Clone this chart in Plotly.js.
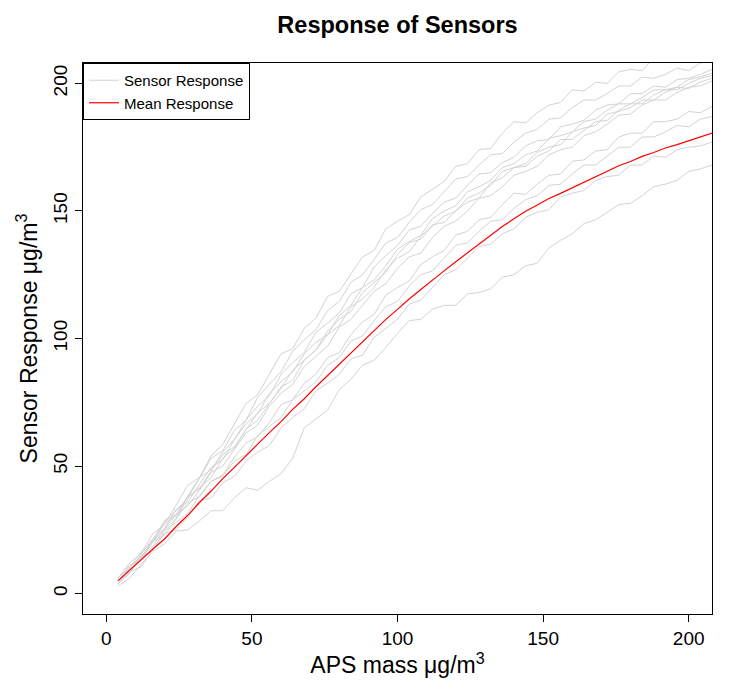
<!DOCTYPE html>
<html>
<head>
<meta charset="utf-8">
<script src="https://cdn.plot.ly/plotly-3.0.1.min.js"></script>
<style>html,body{margin:0;padding:0;background:#fff;}#chart{width:750px;height:696px;}</style>
</head>
<body>
<div id="chart"></div>
<script>
// APS mass (x) shared by all series
const apsMass = [4,8,12,16,20,24,28,32,36,40,44,48,52,56,60,64,68,72,76,80,84,88,92,96,100,104,108,112,116,120,124,128,132,136,140,144,148,152,156,160,164,168,172,176,180,184,188,192,196,200,204,208];

// individual sensor responses
const sensorU1 = [6,12,16,23.5,27,34.5,42.5,45.5,54,58.5,66.5,74.5,78,86,94,96,104,108,116.5,118.5,125.5,132,134.5,143,146,148.5,155.5,158.5,161.5,167.5,168.5,174,174.5,180.5,185,184.5,188.5,191.5,192.5,197.5,197,200.5,200,204.5,205.5,205,210,209.5,210.5,213,212.5,215];
const sensorU2 = [5,10,16.5,20,28.5,32.5,37.5,45.5,53,56,64,68,77,82,87,95,99.5,103.5,111,114.5,122,125,131,137.5,139.5,145.5,150.5,152.5,157.5,162.5,163.5,168,172,172.5,177,180.5,182,186,186.5,190.5,193.5,193.5,196,199,199,202.5,202,203.5,206,205,208,209];
const sensorU3 = [6,11,14,21.5,28.5,31,38,45.5,48.5,55.5,60.5,68,73.5,77.5,86,90.5,94.5,102.5,106,110,117.5,120,128,132.5,136.5,142.5,144,149,153.5,155,160,164.5,165,169,171,175.5,177.5,178,183,184,185.5,189.5,191.5,192,196,196,199,198.5,201.5,202,203.5,205.5];
const sensorU4 = [5,9,15.5,21.5,25.5,33,36,43,49.5,52.5,60.5,66.5,70.5,78.5,83,87,94,98.5,101.5,109,113,120,123,128.5,135,138,140.5,147,150,152,157.5,159.5,162,167,168.5,172,173.5,178.5,179.5,181,185,186,189.5,192,192,194.5,197.5,197.5,198.5,201.5,202.5,204];
const sensorU5 = [4,9.5,13,20.5,25,29.5,37.5,41.5,45.5,53,57,64.5,68,74.5,81,83.5,91.5,95.5,101.5,105,112.5,115.5,120,127,131.5,134,140,144.5,145.5,150,153.5,155,161,163,167,167.5,171.5,173.5,178,178,181.5,185,185.5,189.5,192,192,195.5,197.5,197.5,200,202,203];
const sensorU6 = [5,10.5,14.5,20.5,27.5,30.5,38,41,48,54.5,57.5,64,71,74.5,80.5,87.5,91.5,95.5,103,107.5,110.5,118,122,126,133,137.5,139,144,148,150,155,157,160,165.5,167,168.5,173,175,176,181,182.5,183.5,188,189,190.5,193.5,193.5,196.5,198.5,198,200.5,202];
const sensorU7 = [4,8,15,18.5,25.5,31,34.5,40.5,47.5,50,56.5,63,66,73.5,78.5,82,89,93,97,104.5,107.5,113,118.5,121.5,127.5,132,133.5,139.5,144,146,150,155,156,159.5,164,165.5,167.5,172,174,175,179.5,181,184,187.5,188,191.5,193.5,193.5,196.5,198.5,199,201];
const sensorL1 = [5,10.5,14,20.5,23,29.5,35.5,38,44,46.5,53.5,59,61.5,67,74,76,82.5,86,92.5,94.5,101.5,106.5,109.5,117,120,122.5,129,132,134.5,140.5,142,146.5,147.5,152.5,157,156.5,160.5,164,164.5,169.5,170,173.5,174,179,180.5,180.5,185,185,186,189,188.5,191];
const sensorL2 = [4,8,14.5,17,24.5,28,31.5,38.5,44,46,52,54.5,62,65.5,69,76,79.5,83,89.5,92.5,99,101,107,112.5,114.5,120.5,125,126.5,131.5,136.5,137.5,142,146,146.5,151,154.5,156,160,160.5,164.5,168,168,171.5,175,175,179,179,181,183.5,183,186,187];
const sensorL3 = [4,8.5,10.5,17.5,23.5,25,30,36.5,37.5,43.5,46,52,55.5,58,65,69,72.5,79.5,82.5,86,92,93.5,100.5,104,107.5,113.5,115,120,125,127,131.5,136,137,141,143,147.5,149.5,150.5,155.5,157,158,162,163.5,164,168,168,171.5,171,174,175,175.5,177];
const sensorL4 = [3,6,11.5,16.5,19.5,24.5,25,28.5,32.5,32.5,37.5,41.5,40.5,44,47,53,65,68.5,72,80,84,89.5,91.5,96.5,102,107,107.5,111.5,113,113,117.5,118,119.5,124,125,128.5,129.5,135.5,138.5,141,145,146.5,149.5,152.5,153,156,159.5,160.5,162,165.5,166.5,168];

// mean response
const meanResponse = [5,9.2,13.1,17.5,21.4,26.3,30.7,35.7,40.2,45.1,49.5,54.2,58.6,63.1,67.4,72.2,76.4,81.1,85.5,90.1,94.4,98.9,103,107.5,111.4,115.5,119.2,123,126.5,130.1,133.5,137.1,140.3,143.9,146.9,149.9,152.3,154.9,156.9,159.1,161.2,163.5,165.4,167.7,169.4,171.4,172.9,174.7,176,177.6,178.9,180.5];

const sensorSeries = [sensorU1,sensorU2,sensorU3,sensorU4,sensorU5,sensorU6,sensorU7,sensorL1,sensorL2,sensorL3,sensorL4];
const tickVals = [0,50,100,150,200];
const tickText = ['0','50','100','150','200'];

const FONT = 'Liberation Sans, Arial, Helvetica, sans-serif';
const traces = sensorSeries.map((ys, i) => ({
  x: apsMass, y: ys, type: 'scatter', mode: 'lines',
  line: {color: '#d3d3d3', width: 1},
  name: 'Sensor Response', legendgroup: 'sensor', showlegend: i === 0,
  hoverinfo: 'skip'
}));
traces.push({
  x: apsMass, y: meanResponse, type: 'scatter', mode: 'lines',
  line: {color: '#ff0000', width: 1.2},
  name: 'Mean Response', showlegend: true
});

const axisCommon = {
  showgrid: false, zeroline: false,
  showline: true, mirror: true, linecolor: '#000', linewidth: 1,
  ticks: 'outside', ticklen: 7, tickwidth: 1, tickcolor: '#000',
  tickvals: tickVals, ticktext: tickText,
  tickfont: {family: FONT, size: 19, color: '#000'},
  range: [-8, 208], fixedrange: true
};

const layout = {
  width: 750, height: 696,
  margin: {l: 83, r: 38, t: 63, b: 82, pad: 0},
  paper_bgcolor: '#fff', plot_bgcolor: '#fff',
  font: {family: FONT, color: '#000'},
  title: {text: '<b>Response of Sensors</b>', font: {family: FONT, size: 23.5, color: '#000'},
          x: 0.5, xref: 'paper', xanchor: 'center', y: 0.964, yref: 'container', yanchor: 'middle'},
  xaxis: Object.assign({}, axisCommon, {
    title: {text: 'APS mass \u03bcg/m<sup>3</sup>', font: {family: FONT, size: 23, color: '#000'}, standoff: 3}
  }),
  yaxis: Object.assign({}, axisCommon, {
    tickangle: -90,
    title: {text: 'Sensor Response \u03bcg/m<sup>3</sup>', font: {family: FONT, size: 23, color: '#000'}, standoff: 6}
  }),
  showlegend: true,
  legend: {x: 0, y: 1, xanchor: 'left', yanchor: 'top', bgcolor: '#fff',
           bordercolor: '#000', borderwidth: 1, font: {family: FONT, size: 15, color: '#000'},
           itemwidth: 30, tracegroupgap: 0}
};

Plotly.newPlot('chart', traces, layout, {staticPlot: true, displayModeBar: false});
</script>
</body>
</html>
